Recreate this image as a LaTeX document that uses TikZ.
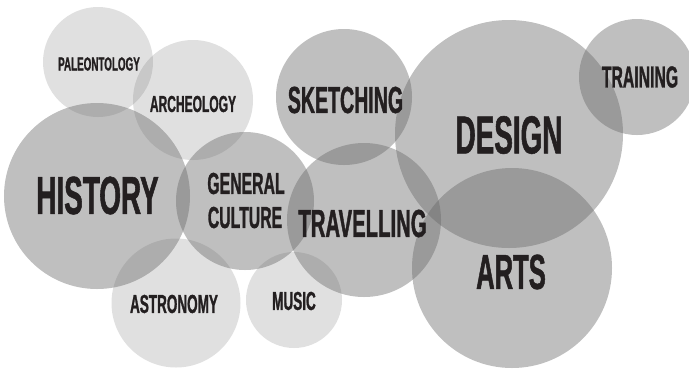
\documentclass[tikz,border=0pt]{standalone}
\usepackage{fontspec}
\newfontfamily\condfont{Liberation Sans}[FakeStretch=0.52,FakeBold=1]
\definecolor{ink}{HTML}{231F20}
\newcommand\fsz[1]{\fontsize{#1}{#1}\selectfont}
\tikzset{
  bubble/.style={circle, inner sep=0pt, draw=none, fill=black!60, minimum size=#1},
  darkb/.style={bubble=#1, fill opacity=0.42},
  lightb/.style={bubble=#1, fill opacity=0.2},
  word/.style={inner sep=0pt, text=ink, font=\condfont\bfseries, align=center}
}
\begin{document}
\begin{tikzpicture}[x=1bp,y=-1bp]
\useasboundingbox (0,0) rectangle (689,369);
\clip (0,0) rectangle (689,369);
% circles
\node[lightb=110bp] (paleo) at (98,62) {};
\node[lightb=120bp] (arch) at (193,100) {};
\node[darkb=186bp] (hist) at (97,196) {};
\node[darkb=138bp] (gen) at (245,201) {};
\node[darkb=136bp] (sketch) at (344,97) {};
\node[darkb=228bp] (design) at (509,134) {};
\node[darkb=116bp] (train) at (637,77) {};
\node[darkb=154bp] (trav) at (364,220) {};
\node[darkb=200bp] (arts) at (512,268) {};
\node[lightb=129bp] (astro) at (176,303) {};
\node[lightb=96bp] (music) at (294,300) {};
% labels
\node[word, font=\condfont\bfseries\fsz{19}] (tpaleo) at (99,64) {PALEONTOLOGY};
\node[word, font=\condfont\bfseries\fsz{23.2}] (tarch) at (193,104) {ARCHEOLOGY};
\node[word, font=\condfont\bfseries\fsz{37.8}] (tsketch) at (345.5,100) {SKETCHING};
\node[word, font=\condfont\bfseries\fsz{53.8}] (tdesign) at (509,135) {DESIGN};
\node[word, font=\condfont\bfseries\fsz{30.5}] (ttrain) at (640,77) {TRAINING};
\node[word, font=\condfont\bfseries\fsz{53.8}] (thist) at (97.5,195.5) {HISTORY};
\node[word, font=\condfont\bfseries\fsz{30.5}] (tgen1) at (246,183.5) {GENERAL};
\node[word, font=\condfont\bfseries\fsz{30.5}] (tgen2) at (245,217.5) {CULTURE};
\node[word, font=\condfont\bfseries\fsz{39.2}] (ttrav) at (362.5,223.5) {TRAVELLING};
\node[word, font=\condfont\bfseries\fsz{49.4}] (tarts) at (511,272) {ARTS};
\node[word, font=\condfont\bfseries\fsz{26.1}] (tastro) at (174,304) {ASTRONOMY};
\node[word, font=\condfont\bfseries\fsz{26.1}] (tmusic) at (294,301) {MUSIC};
\end{tikzpicture}
\end{document}
